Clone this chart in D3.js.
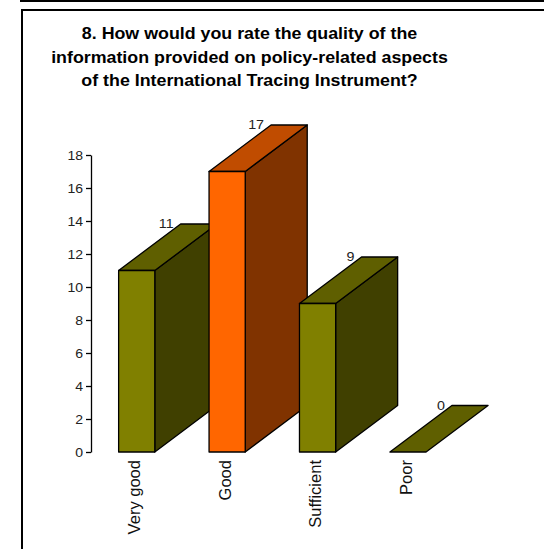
<!DOCTYPE html>
<html>
<head>
<meta charset="utf-8">
<script src="https://cdn.jsdelivr.net/npm/d3@7"></script>
<style>
html,body{margin:0;padding:0;background:#fff;}
svg{display:block;}
</style>
</head>
<body>
<svg id="chart" width="544" height="549"></svg>
<script>
const titleLines = [
  "8. How would you rate the quality of the",
  "information provided on policy-related aspects",
  "of the International Tracing Instrument?"
];
const categories = ["Very good", "Good", "Sufficient", "Poor"];
const values = [11, 17, 9, 0];
const yTicks = [0, 2, 4, 6, 8, 10, 12, 14, 16, 18];
const frontColors = ["#808000", "#ff6600", "#808000", "#808000"];
const topColors   = ["#5f5f00", "#c04c00", "#5f5f00", "#5f5f00"];
const sideColors  = ["#404000", "#803300", "#404000", "#404000"];

const svg = d3.select("#chart");
const font = "Liberation Sans, Arial, Helvetica, sans-serif";
const stretch = 1.08;

// frame
svg.append("line").attr("x1", 20).attr("x2", 544).attr("y1", 1).attr("y2", 1)
  .attr("stroke", "#000").attr("stroke-width", 2);
svg.append("rect").attr("x", 22).attr("y", 10).attr("width", 600).attr("height", 600)
  .attr("fill", "none").attr("stroke", "#000").attr("stroke-width", 2);

// title
svg.append("g").selectAll("text").data(titleLines).join("text")
  .attr("transform", (d, i) => `translate(249.5,${39 + i * 23.5}) scale(${stretch},1)`)
  .attr("font-family", font).attr("font-weight", "bold").attr("font-size", 16.5)
  .attr("text-anchor", "middle").attr("fill", "#000").text(d => d);

const y = d3.scaleLinear().domain([0, 18]).range([452, 155]);
const x = d3.scaleBand().domain(categories).range([91.5, 453.2]).paddingInner(0.6).paddingOuter(0.3);
const depthX = 62, depthY = -46.5;

// axis
const axis = d3.axisLeft(y).tickValues(yTicks).tickSize(5).tickSizeOuter(0).tickPadding(3);
const ag = svg.append("g").attr("transform", "translate(91,0)").call(axis);
ag.select(".domain").attr("stroke", "#000").attr("stroke-width", 1.3);
ag.selectAll(".tick line").attr("stroke", "#000").attr("stroke-width", 1.3);
ag.selectAll(".tick text")
  .attr("x", null).attr("dy", null)
  .attr("transform", `translate(-8,0) scale(1.08,1)`)
  .attr("dominant-baseline", "central")
  .attr("font-family", font).attr("font-size", 13).attr("fill", "#222");

const data = categories.map((c, i) => ({c, v: values[i], i}));
const bw = x.bandwidth();

const bars = svg.append("g").selectAll("g.bar").data(data).join("g").attr("class", "bar");
bars.each(function(d) {
  const sel = d3.select(this);
  const x0 = x(d.c), x1 = x0 + bw;
  const yt = y(d.v), yb = y(0);
  const pth = (pts, fill) => {
    sel.append("path").attr("d", "M" + pts.map(p => p.join(",")).join("L") + "Z").attr("fill", fill)
      .attr("stroke", "#000").attr("stroke-width", 1.3).attr("stroke-linejoin", "round");
  };
  if (d.v > 0) pth([[x1, yt], [x1 + depthX, yt + depthY], [x1 + depthX, yb + depthY], [x1, yb]], sideColors[d.i]);
  pth([[x0, yt], [x0 + depthX, yt + depthY], [x1 + depthX, yt + depthY], [x1, yt]], topColors[d.i]);
  if (d.v > 0) pth([[x0, yt], [x1, yt], [x1, yb], [x0, yb]], frontColors[d.i]);
  sel.append("text")
    .attr("transform", `translate(${x0 + depthX - 7},${yt + depthY}) scale(1.1,1)`)
    .attr("dominant-baseline", "central")
    .attr("text-anchor", "end").attr("font-family", font).attr("font-size", 13)
    .attr("fill", "#222").text(d.v);
});

// category labels
svg.append("g").selectAll("text").data(data).join("text")
  .attr("transform", d => `translate(${x(d.c) + bw / 2},460) rotate(-90) scale(1.06,1)`)
  .attr("dy", "0.24em").attr("text-anchor", "end")
  .attr("font-family", font).attr("font-size", 15.6).attr("fill", "#111")
  .text(d => d.c);
</script>
</body>
</html>
